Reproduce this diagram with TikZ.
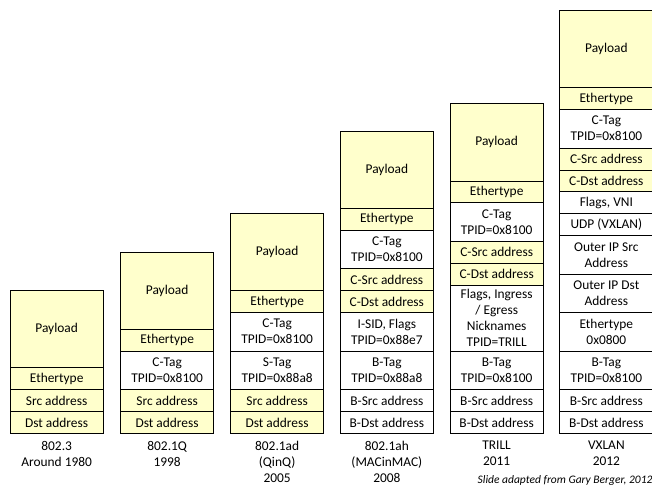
\documentclass[tikz,border=0pt]{standalone}
\usepackage{fontspec}
\setmainfont{Carlito}
\definecolor{payy}{RGB}{255,255,204}
\tikzset{
  cell/.style={draw=black, line width=0.9pt, anchor=north west, inner sep=0pt, outer sep=0pt,
    minimum width=93.3pt, align=center, font=\fontsize{13.4}{16}\selectfont, text=black},
  lbl/.style={anchor=center, align=center, font=\fontsize{13.4}{16}\selectfont, inner sep=0pt},
  credit/.style={anchor=west, font=\fontsize{11.5}{13}\itshape\selectfont, inner sep=0pt}
}
% #1 name, #2 x, #3 ytop, #4 ybottom, #5 fill, #6 text
\newcommand\cellrow[6]{\node[cell, fill=#5, minimum height={(#4-#3)*1pt}] (#1) at (#2,#3) {#6};}
\begin{document}
\begin{tikzpicture}[x=1pt,y=-1pt]
\useasboundingbox (0,0) rectangle (652,489);
% column 1: 802.3
\cellrow{a1}{10}{290.7}{367.7}{payy}{Payload}
\cellrow{a2}{10}{367.7}{389.3}{payy}{Ethertype}
\cellrow{a3}{10}{389.3}{411.7}{payy}{Src address}
\cellrow{a4}{10}{411.7}{433.3}{payy}{Dst address}
\node[lbl] (la) at (56.65,453.7) {802.3\\Around 1980};
% column 2: 802.1Q
\cellrow{b1}{120.5}{252.3}{329.3}{payy}{Payload}
\cellrow{b2}{120.5}{329.3}{351}{payy}{Ethertype}
\cellrow{b3}{120.5}{351}{389.3}{white}{C-Tag\\TPID=0x8100}
\cellrow{b4}{120.5}{389.3}{411.7}{payy}{Src address}
\cellrow{b5}{120.5}{411.7}{433.3}{payy}{Dst address}
\node[lbl] (lb) at (167.15,453.7) {802.1Q\\1998};
% column 3: 802.1ad
\cellrow{c1}{230.5}{213.7}{290.7}{payy}{Payload}
\cellrow{c2}{230.5}{290.7}{312.3}{payy}{Ethertype}
\cellrow{c3}{230.5}{312.3}{351}{white}{C-Tag\\TPID=0x8100}
\cellrow{c4}{230.5}{351}{389.3}{white}{S-Tag\\TPID=0x88a8}
\cellrow{c5}{230.5}{389.3}{411.7}{payy}{Src address}
\cellrow{c6}{230.5}{411.7}{433.3}{payy}{Dst address}
\node[lbl] (lc) at (277.15,461.7) {802.1ad\\(QinQ)\\2005};
% column 4: 802.1ah
\cellrow{d1}{340.2}{131.3}{208.3}{payy}{Payload}
\cellrow{d2}{340.2}{208.3}{230}{payy}{Ethertype}
\cellrow{d3}{340.2}{230}{268.7}{white}{C-Tag\\TPID=0x8100}
\cellrow{d4}{340.2}{268.7}{290.7}{payy}{C-Src address}
\cellrow{d5}{340.2}{290.7}{312.3}{payy}{C-Dst address}
\cellrow{d6}{340.2}{312.3}{351}{white}{I-SID, Flags\\TPID=0x88e7}
\cellrow{d7}{340.2}{351}{389.3}{white}{B-Tag\\TPID=0x88a8}
\cellrow{d8}{340.2}{389.3}{411.7}{white}{B-Src address}
\cellrow{d9}{340.2}{411.7}{433.3}{white}{B-Dst address}
\node[lbl] (ld) at (386.85,461.7) {802.1ah\\(MACinMAC)\\2008};
% column 5: TRILL
\cellrow{e1}{450}{103.7}{181}{payy}{Payload}
\cellrow{e2}{450}{181}{202.7}{payy}{Ethertype}
\cellrow{e3}{450}{202.7}{241}{white}{C-Tag\\TPID=0x8100}
\cellrow{e4}{450}{241}{263.3}{payy}{C-Src address}
\cellrow{e5}{450}{263.3}{285.3}{payy}{C-Dst address}
\cellrow{e6}{450}{285.3}{351}{white}{Flags, Ingress\\/ Egress\\Nicknames\\TPID=TRILL}
\cellrow{e7}{450}{351}{389.3}{white}{B-Tag\\TPID=0x8100}
\cellrow{e8}{450}{389.3}{411.7}{white}{B-Src address}
\cellrow{e9}{450}{411.7}{433.3}{white}{B-Dst address}
\node[lbl] (le) at (496.65,453.7) {TRILL\\2011};
% column 6: VXLAN
\cellrow{f1}{559.7}{10.7}{87.7}{payy}{Payload}
\cellrow{f2}{559.7}{87.7}{109.3}{payy}{Ethertype}
\cellrow{f3}{559.7}{109.3}{148}{white}{C-Tag\\TPID=0x8100}
\cellrow{f4}{559.7}{148}{170.3}{payy}{C-Src address}
\cellrow{f5}{559.7}{170.3}{191.7}{payy}{C-Dst address}
\cellrow{f6}{559.7}{191.7}{213.7}{white}{Flags, VNI}
\cellrow{f7}{559.7}{213.7}{235.7}{white}{UDP (VXLAN)}
\cellrow{f8}{559.7}{235.7}{274}{white}{Outer IP Src\\Address}
\cellrow{f9}{559.7}{274}{312.3}{white}{Outer IP Dst\\Address}
\cellrow{f10}{559.7}{312.3}{351}{white}{Ethertype\\0x0800}
\cellrow{f11}{559.7}{351}{389.3}{white}{B-Tag\\TPID=0x8100}
\cellrow{f12}{559.7}{389.3}{411.7}{white}{B-Src address}
\cellrow{f13}{559.7}{411.7}{433.3}{white}{B-Dst address}
\node[lbl] (lf) at (606.35,453.7) {VXLAN\\2012};
% credit
\node[credit] (cr) at (477.5,480.5) {Slide adapted from Gary Berger, 2012};
\end{tikzpicture}
\end{document}
